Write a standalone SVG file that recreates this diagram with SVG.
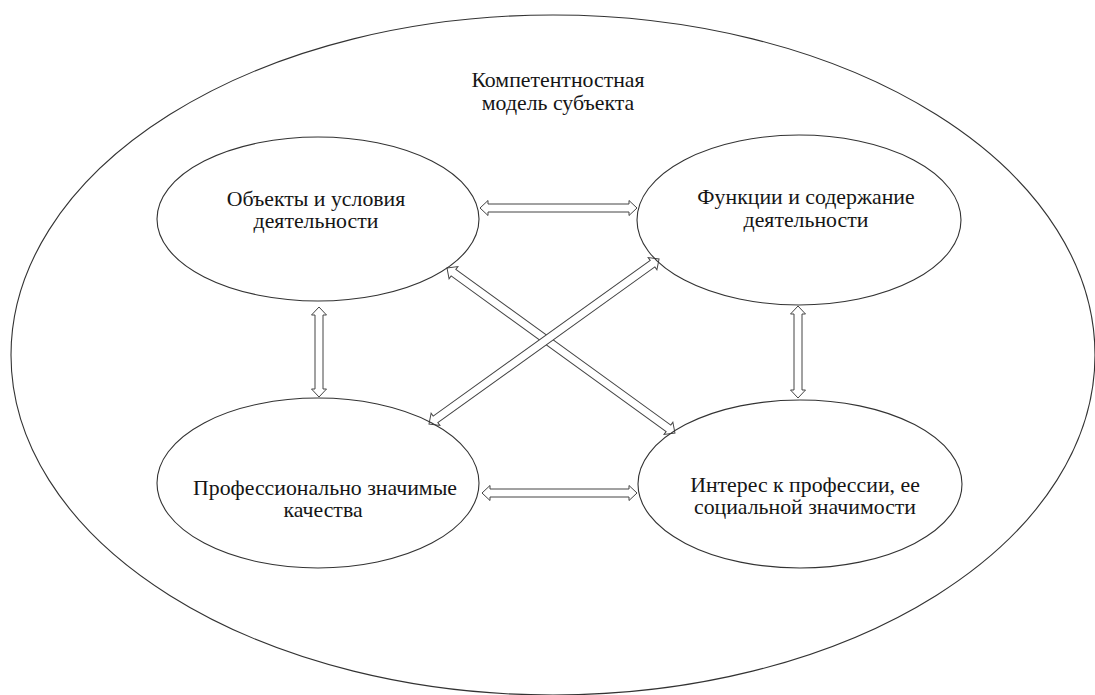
<svg xmlns="http://www.w3.org/2000/svg" width="1095" height="695" viewBox="0 0 1095 695">
<style>
.el{fill:none;stroke:#333;stroke-width:1.1}
.ar{fill:#fff;stroke:#444;stroke-width:1}
.t{font-family:'Liberation Serif','Times New Roman',serif;font-size:21.8px;fill:#151515;text-anchor:middle}
</style>
<rect width="1095" height="695" fill="#fff"/>
<g id="outer">
<ellipse class="el" cx="553" cy="355" rx="542" ry="340"/>
<text class="t" x="558" y="87">Компетентностная</text>
<text class="t" x="558" y="110">модель субъекта</text>
</g>
<g id="connectors">
<polygon class="ar" transform="translate(480,208)" points="0,0 8,-7.5 8,-4 149,-4 149,-7.5 157,0 149,7.5 149,4 8,4 8,7.5"/>
<polygon class="ar" transform="translate(482,493)" points="0,0 8,-7.5 8,-4 147,-4 147,-7.5 155,0 147,7.5 147,4 8,4 8,7.5"/>
<polygon class="ar" transform="translate(319,307) rotate(90)" points="0,0 8,-7.5 8,-4 82,-4 82,-7.5 90,0 82,7.5 82,4 8,4 8,7.5"/>
<polygon class="ar" transform="translate(798,306) rotate(90)" points="0,0 8,-7.5 8,-4 84,-4 84,-7.5 92,0 84,7.5 84,4 8,4 8,7.5"/>
<polygon class="ar" transform="translate(447,268) rotate(35.9)" points="0,0 8,-7.5 8,-4 273.4,-4 273.4,-7.5 281.4,0 273.4,7.5 273.4,4 8,4 8,7.5"/>
<polygon class="ar" transform="translate(429,424) rotate(-35.65)" points="0,0 8,-7.5 8,-4 275.1,-4 275.1,-7.5 283.1,0 275.1,7.5 275.1,4 8,4 8,7.5"/>
</g>
<g id="n1">
<ellipse class="el" cx="318" cy="219" rx="161" ry="82"/>
<text class="t" x="316" y="206">Объекты и условия</text>
<text class="t" x="316" y="228">деятельности</text>
</g>
<g id="n2">
<ellipse class="el" cx="799" cy="220" rx="162" ry="85"/>
<text class="t" x="806" y="204">Функции и содержание</text>
<text class="t" x="806" y="227">деятельности</text>
</g>
<g id="n3">
<ellipse class="el" cx="318" cy="483" rx="161" ry="85"/>
<text class="t" x="325" y="495">Профессионально значимые</text>
<text class="t" x="323" y="517">качества</text>
</g>
<g id="n4">
<ellipse class="el" cx="800" cy="484" rx="162" ry="84"/>
<text class="t" x="805" y="492">Интерес к профессии, ее</text>
<text class="t" x="805" y="514">социальной значимости</text>
</g>
</svg>
